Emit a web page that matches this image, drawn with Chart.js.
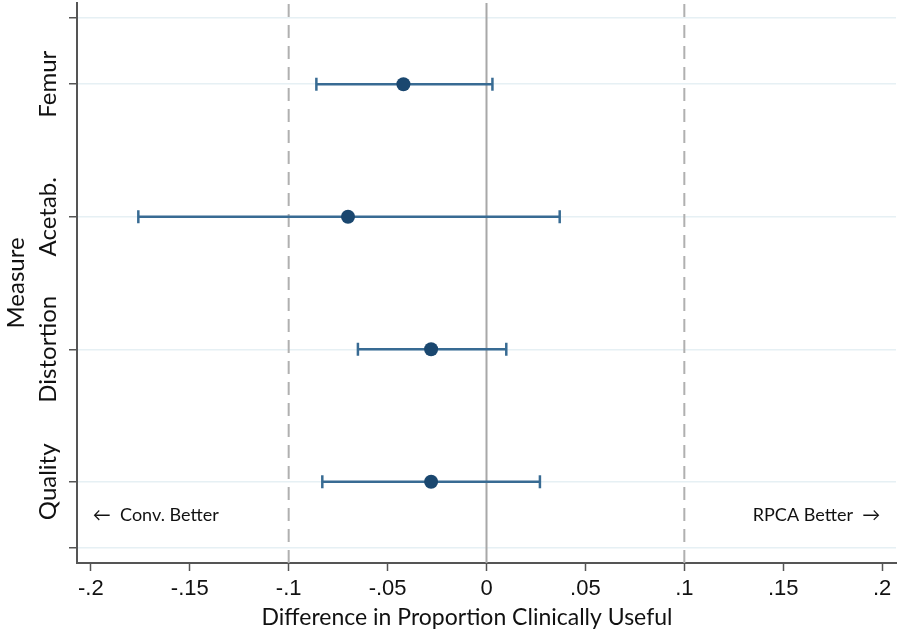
<!DOCTYPE html>
<html>
<head>
<meta charset="utf-8">
<script src="https://cdn.jsdelivr.net/npm/chart.js@4.4.1/dist/chart.umd.min.js"></script>
<style>
    html, body { margin: 0; padding: 0; background: #fff; }
    #wrap { width: 900px; height: 637px; }
</style>
</head>
<body>
<div id="wrap"><canvas id="chart" width="900" height="637"></canvas></div>
<script>
// measures, bottom to top
const measures = ['Quality', 'Distortion', 'Acetab.', 'Femur'];
const measurePos = [1, 2, 3, 4];
const estimates = [-0.028, -0.028, -0.070, -0.042];
const lowerCI = [-0.083, -0.065, -0.176, -0.086];
const upperCI = [0.027, 0.010, 0.037, 0.003];

const xTicks = [-0.2, -0.15, -0.1, -0.05, 0, 0.05, 0.1, 0.15, 0.2];
const yTicks = [0.5, 1, 2, 3, 4, 4.5];
const refLines = [-0.1, 0, 0.1];

const X_MIN = -0.207, X_MAX = 0.207;
const Y_MIN = 0.387, Y_MAX = 4.613;

const LABEL_FONT = 'Lato, "Open Sans", sans-serif';
const TICK_FONT = '"Liberation Sans", Arial, sans-serif';

const navy = '#1a476f';
const ciColor = '#386b93';

// stata style tick labels: -.15, .05, 0
const fmtTick = (v) => {
    if (Math.abs(v) < 1e-9) return '0';
    let s = String(Math.round(v * 100) / 100);
    return s.replace('0.', '.');
};

const datasets = [];

datasets.push({
    type: 'scatter',
    label: 'estimate',
    data: estimates.map((e, i) => ({ x: e, y: measurePos[i] })),
    pointRadius: 7,
    pointBackgroundColor: navy,
    pointBorderWidth: 0,
    order: 0
});

measures.forEach((m, i) => {
    datasets.push({
        type: 'line',
        label: m + ' CI',
        data: [{ x: lowerCI[i], y: measurePos[i] }, { x: upperCI[i], y: measurePos[i] }],
        borderColor: ciColor,
        borderWidth: 2.5,
        pointStyle: 'line',
        rotation: 90,
        pointRadius: 6.5,
        pointBorderColor: ciColor,
        pointBorderWidth: 2.5,
        order: 1
    });
});

refLines.forEach((r) => {
    datasets.push({
        type: 'line',
        label: 'ref ' + r,
        data: [{ x: r, y: Y_MIN }, { x: r, y: Y_MAX }],
        borderColor: r === 0 ? '#a8a8a8' : '#b0b0b0',
        borderWidth: 2,
        borderDash: r === 0 ? [] : [13, 8],
        pointRadius: 0,
        order: 2
    });
});

const textPlugin = {
    id: 'textPlugin',
    afterDraw(chart) {
        const ctx = chart.ctx;
        const xs = chart.scales.x;
        const ys = chart.scales.y;
        ctx.save();
        ctx.fillStyle = '#111';
        ctx.textBaseline = 'middle';

        // category labels, rotated
        ctx.font = '24px ' + LABEL_FONT;
        ctx.textAlign = 'center';
        measures.forEach((m, i) => {
            ctx.save();
            ctx.translate(48, ys.getPixelForValue(measurePos[i]));
            ctx.rotate(-Math.PI / 2);
            ctx.fillText(m, 0, 0);
            ctx.restore();
        });

        // y title
        ctx.save();
        ctx.translate(16, (chart.chartArea.top + chart.chartArea.bottom) / 2);
        ctx.rotate(-Math.PI / 2);
        ctx.fillText('Measure', 0, 0);
        ctx.restore();

        // x title
        ctx.font = '23px ' + LABEL_FONT;
        ctx.fillText('Difference in Proportion Clinically Useful', 467, 618);

        // direction notes
        ctx.font = '18px ' + LABEL_FONT;
        const yNote = ys.getPixelForValue(0.75);
        ctx.textAlign = 'left';
        ctx.fillText('\u2190  Conv. Better', xs.getPixelForValue(-0.2) + 2, yNote);
        ctx.textAlign = 'right';
        ctx.fillText('RPCA Better  \u2192', xs.getPixelForValue(0.2) - 2, yNote);
        ctx.restore();
    }
};

new Chart(document.getElementById('chart'), {
    type: 'scatter',
    data: { datasets: datasets },
    options: {
        responsive: false,
        animation: false,
        layout: { autoPadding: false, padding: { top: 3, right: 4, left: 0, bottom: 0 } },
        plugins: {
            legend: { display: false },
            tooltip: { enabled: false }
        },
        scales: {
            x: {
                type: 'linear',
                min: X_MIN,
                max: X_MAX,
                afterBuildTicks: (scale) => { scale.ticks = xTicks.map(v => ({ value: v })); },
                afterFit: (scale) => { scale.height = 74; },
                grid: { drawOnChartArea: false, tickLength: 8, tickColor: '#555', tickWidth: 1.5 },
                border: { color: '#555', width: 2 },
                ticks: {
                    color: '#111',
                    padding: 5,
                    maxRotation: 0,
                    font: { family: TICK_FONT, size: 22 },
                    callback: (v) => fmtTick(v)
                }
            },
            y: {
                type: 'linear',
                min: Y_MIN,
                max: Y_MAX,
                afterBuildTicks: (scale) => { scale.ticks = yTicks.map(v => ({ value: v })); },
                afterFit: (scale) => { scale.width = 77; },
                grid: { color: '#e6f0f4', lineWidth: 1.5, tickLength: 8, tickColor: '#555', tickWidth: 1.5 },
                border: { color: '#555', width: 2 },
                ticks: { display: false }
            }
        }
    },
    plugins: [textPlugin]
});
</script>
</body>
</html>
